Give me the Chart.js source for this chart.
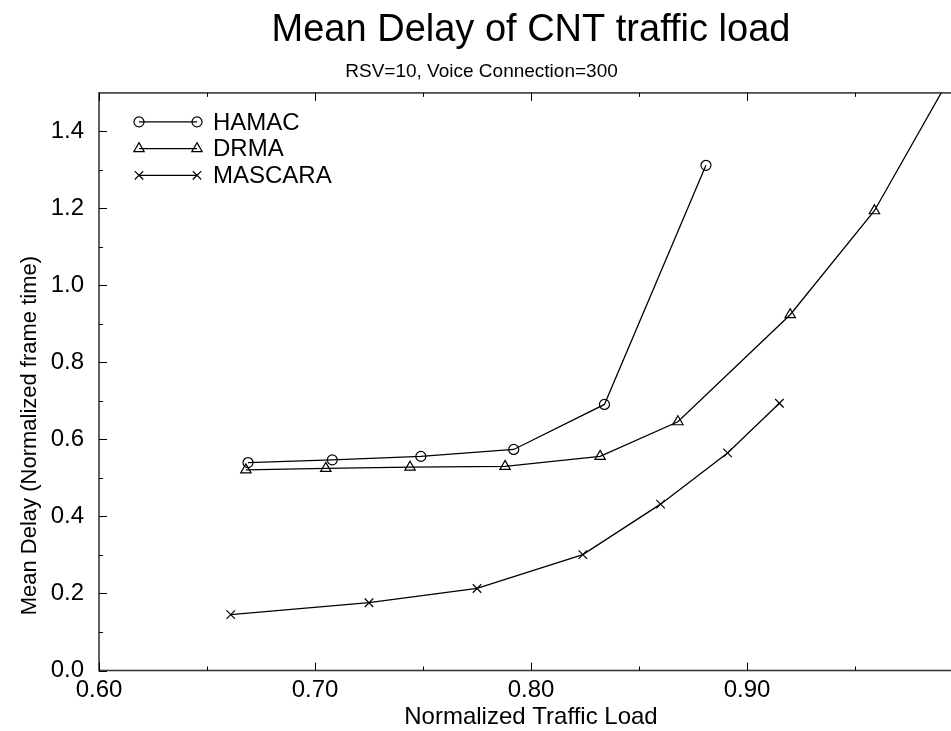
<!DOCTYPE html>
<html>
<head>
<meta charset="utf-8">
<title>Mean Delay of CNT traffic load</title>
<script src="https://cdn.jsdelivr.net/npm/chart.js"></script>
<style>
  html, body { margin: 0; padding: 0; background: #fff; overflow: hidden; }
  #wrap { width: 972px; height: 731px; }
</style>
</head>
<body>
<div id="wrap"><canvas id="delayChart" width="972" height="731"></canvas></div>
<script>
// values
const hamacX = [0.669, 0.708, 0.749, 0.792, 0.834, 0.881];
const hamacY = [0.540, 0.547, 0.556, 0.574, 0.691, 1.312];

const drmaX = [0.668, 0.705, 0.744, 0.788, 0.832, 0.868, 0.920, 0.959, 1.000];
const drmaY = [0.521, 0.525, 0.528, 0.530, 0.556, 0.646, 0.924, 1.194, 1.600];

const mascaraX = [0.661, 0.725, 0.775, 0.824, 0.860, 0.891, 0.915];
const mascaraY = [0.145, 0.176, 0.213, 0.301, 0.432, 0.565, 0.694];

const xTicks = [0.60, 0.70, 0.80, 0.90];
const xMinorTicks = [0.65, 0.75, 0.85, 0.95, 1.00];
const yTicks = [0.0, 0.2, 0.4, 0.6, 0.8, 1.0, 1.2, 1.4];
const yMinorTicks = [0.1, 0.3, 0.5, 0.7, 0.9, 1.1, 1.3];

const yTitle = "Mean Delay (Normalized frame time)";

const FONT = "'Liberation Sans', Arial, Helvetica, sans-serif";

function toPoints(xs, ys) {
  return xs.map((x, i) => ({ x: x, y: ys[i] }));
}

function drawMarker(ctx, style, x, y, r) {
  ctx.beginPath();
  if (style === "circle") {
    ctx.arc(x, y, r, 0, Math.PI * 2);
  } else if (style === "triangle") {
    ctx.moveTo(x, y - r);
    ctx.lineTo(x + r * 0.866, y + r * 0.5);
    ctx.lineTo(x - r * 0.866, y + r * 0.5);
    ctx.closePath();
  } else {
    const d = r * 0.707;
    ctx.moveTo(x - d, y - d); ctx.lineTo(x + d, y + d);
    ctx.moveTo(x + d, y - d); ctx.lineTo(x - d, y + d);
  }
  ctx.stroke();
}

// gnuplot style frame with inward ticks
const frameTicks = {
  id: "frameTicks",
  beforeDatasetsDraw(chart) {
    const { ctx, chartArea: a, scales: { x, y } } = chart;
    ctx.save();
    ctx.strokeStyle = "#3a3a3a";
    ctx.lineWidth = 1.6;
    ctx.strokeRect(a.left, a.top, a.right - a.left, a.bottom - a.top);
    ctx.strokeStyle = "#000";
    ctx.lineWidth = 1;
    ctx.beginPath();
    const xt = (v, len) => {
      const px = Math.round(x.getPixelForValue(v)) + 0.5;
      ctx.moveTo(px, a.bottom); ctx.lineTo(px, a.bottom - len);
      ctx.moveTo(px, a.top); ctx.lineTo(px, a.top + len);
    };
    const yt = (v, len) => {
      const py = Math.round(y.getPixelForValue(v)) + 0.5;
      ctx.moveTo(a.left, py); ctx.lineTo(a.left + len, py);
      ctx.moveTo(a.right, py); ctx.lineTo(a.right - len, py);
    };
    xTicks.forEach(v => xt(v, 8));
    xMinorTicks.forEach(v => xt(v, 4));
    yTicks.forEach(v => yt(v, 8));
    yMinorTicks.forEach(v => yt(v, 4));
    ctx.stroke();
    ctx.restore();
  }
};

// legend inside the plot (top left) and the rotated y title
const innerLegend = {
  id: "innerLegend",
  afterDraw(chart) {
    const { ctx, chartArea: a } = chart;
    ctx.save();
    ctx.strokeStyle = "#000";
    ctx.fillStyle = "#000";
    ctx.font = "24px " + FONT;
    ctx.textBaseline = "middle";
    chart.data.datasets.forEach((ds, i) => {
      const yy = a.top + 29 + i * 26.7;
      const x0 = a.left + 40, x1 = a.left + 98;
      ctx.lineWidth = 1.3;
      ctx.beginPath();
      ctx.moveTo(x0, yy); ctx.lineTo(x1, yy);
      ctx.stroke();
      ctx.lineWidth = 1.2;
      drawMarker(ctx, ds.pointStyle, x0, yy, ds.pointRadius);
      drawMarker(ctx, ds.pointStyle, x1, yy, ds.pointRadius);
      ctx.fillText(ds.label, a.left + 114, yy + 1);
    });

    // y axis title, sits a bit below the plot centre like the original
    ctx.font = "22px " + FONT;
    ctx.translate(30, chart.scales.y.getPixelForValue(0.61));
    ctx.rotate(-Math.PI / 2);
    ctx.textAlign = "center";
    ctx.fillText(yTitle, 0, 0);
    ctx.restore();
  }
};

function series(label, pts, style, radius) {
  return {
    label: label,
    data: pts,
    borderColor: "#000",
    borderWidth: 1.3,
    pointStyle: style,
    pointRadius: radius,
    pointBorderWidth: 1.2,
    pointBorderColor: "#000",
    pointBackgroundColor: "rgba(0,0,0,0)",
    tension: 0,
    fill: false
  };
}

new Chart(document.getElementById("delayChart"), {
  type: "line",
  data: {
    datasets: [
      series("HAMAC", toPoints(hamacX, hamacY), "circle", 5),
      series("DRMA", toPoints(drmaX, drmaY), "triangle", 6),
      series("MASCARA", toPoints(mascaraX, mascaraY), "crossRot", 6)
    ]
  },
  options: {
    responsive: false,
    animation: false,
    devicePixelRatio: 1,
    layout: { padding: { left: 0, right: 9, top: 0, bottom: 0 } },
    plugins: {
      legend: { display: false },
      tooltip: { enabled: false },
      title: {
        display: true,
        text: "Mean Delay of CNT traffic load",
        fullSize: false,
        color: "#000",
        font: { family: FONT, size: 38, weight: "normal" },
        padding: { top: 8, bottom: 3 }
      },
      subtitle: {
        display: true,
        text: "RSV=10, Voice Connection=300",
        color: "#000",
        font: { family: FONT, size: 19, weight: "normal" },
        padding: { top: 4, bottom: 9.5 }
      }
    },
    scales: {
      x: {
        type: "linear",
        min: 0.6,
        max: 1.0,
        afterBuildTicks: s => { s.ticks = xTicks.map(v => ({ value: v })); },
        afterFit: s => { s.height = 60.5; },
        grid: { display: false, drawTicks: false },
        border: { display: false },
        ticks: {
          autoSkip: false,
          maxRotation: 0,
          padding: 5,
          color: "#000",
          font: { family: FONT, size: 24 },
          callback: v => v.toFixed(2)
        },
        title: {
          display: true,
          text: "Normalized Traffic Load",
          color: "#000",
          font: { family: FONT, size: 24, lineHeight: 1.1 },
          padding: { top: 0, bottom: 0 }
        }
      },
      y: {
        min: 0,
        max: 1.5,
        afterBuildTicks: s => { s.ticks = yTicks.map(v => ({ value: v })); },
        afterFit: s => { s.width = 99; },
        grid: { display: false, drawTicks: false },
        border: { display: false },
        ticks: {
          autoSkip: false,
          padding: 15,
          color: "#000",
          font: { family: FONT, size: 24 },
          callback: v => v.toFixed(1)
        },
        title: { display: false }
      }
    }
  },
  plugins: [frameTicks, innerLegend]
});
</script>
</body>
</html>
